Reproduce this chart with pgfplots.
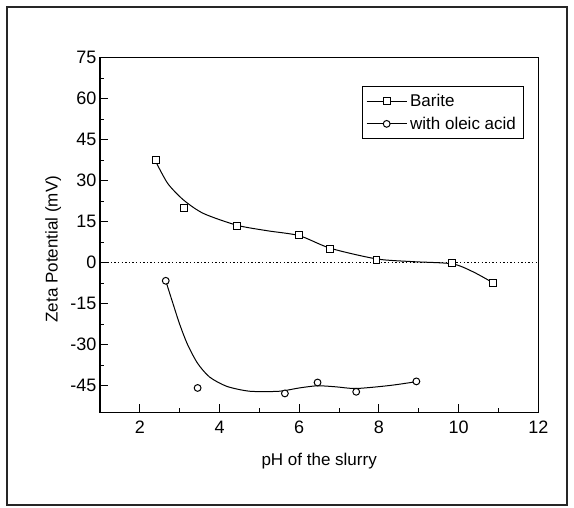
\documentclass[border=0pt]{standalone}
\usepackage{pgfplots}
\pgfplotsset{compat=1.18}
\usepackage{fontspec}
\setmainfont{Liberation Sans}
\begin{document}
\begin{tikzpicture}[x=1pt,y=1pt]
\useasboundingbox (0,0) rectangle (574,508);
\fill[white] (0,0) rectangle (574,508);
\draw[line width=1.6pt, black!85] (7,3) rectangle (567,501);
\begin{axis}[
  at={(100pt,95.7pt)}, anchor=south west,
  scale only axis, width=438.3pt, height=354.6pt,
  xmin=1, xmax=12, ymin=-54.7, ymax=75,
  xtick={2,4,...,12}, ytick={-45,-30,...,75},
  minor x tick num=1, minor y tick num=1,
  xtick pos=bottom, ytick pos=left,
  tick align=inside,
  major tick length=8pt, minor tick length=4pt,
  axis line style={line width=1.1pt},
  every tick/.style={line width=1pt, black},
  /pgf/number format/assume math mode=true,
  font=\fontsize{17}{20}\selectfont,
  tick label style={font=\fontsize{18}{20}\selectfont},
  xticklabel style={yshift=-5pt},
  xlabel={pH of the slurry},
  ylabel={Zeta Potential (mV)},
  xlabel style={at={(axis description cs:0.5,-0.139)}, anchor=center},
  ylabel style={at={(axis description cs:-0.107,0.46)}, anchor=center},
  legend style={at={(axis description cs:0.966,0.921)}, anchor=north east,
     draw=black, line width=0.9pt, font=\fontsize{17}{20}\selectfont,
     inner xsep=4pt, inner ysep=6pt, row sep=5pt,
     nodes={inner xsep=3pt}},
  legend cell align=left,
]
% zero line
\addplot[forget plot, line width=1.3pt, dash pattern=on 1.4pt off 2.2pt] coordinates {(1,0) (12,0)};
% fitted curves
\addplot[forget plot, smooth, tension=0.45, line width=1pt] coordinates {
(2.40,37.0)(2.7,29.0)(3.1,22.9)(3.6,18.0)(4.44,13.7)(5.2,11.7)(6.0,9.9)(6.78,5.3)(7.94,1.4)(8.85,0.4)(9.84,-0.4)(10.36,-3.3)(10.86,-7.3)};
\addplot[forget plot, smooth, tension=0.45, line width=1pt] coordinates {
(2.65,-6.6)(2.8,-13.5)(3.0,-22.5)(3.2,-30.0)(3.45,-36.8)(3.75,-41.8)(4.18,-45.2)(4.76,-47.0)(5.5,-47.0)(6.0,-45.8)(6.46,-45.0)(6.93,-45.4)(7.43,-46.0)(8.27,-44.9)(8.94,-43.5)};
% data points
\addplot[only marks, mark=square*, mark size=3.4pt, mark options={fill=white, draw=black, line width=1pt},
  legend image code/.code={\draw[black,line width=0.9pt] (0pt,0pt) -- (40pt,0pt);
    \draw[black] plot[mark=square*, mark size=3.4pt, mark options={fill=white, draw=black, line width=1pt}] coordinates {(20pt,0pt)};}]
 coordinates {(2.40,37.5)(3.10,20)(4.44,13.5)(6.0,10)(6.78,5)(7.94,1)(9.84,0)(10.86,-7.5)};
\addlegendentry{Barite}
\addplot[only marks, mark=*, mark size=3.4pt, mark options={fill=white, draw=black, line width=1pt},
  legend image code/.code={\draw[black,line width=0.9pt] (0pt,0pt) -- (40pt,0pt);
    \draw[black] plot[mark=*, mark size=3.4pt, mark options={fill=white, draw=black, line width=1pt}] coordinates {(20pt,0pt)};}]
 coordinates {(2.65,-6.6)(3.45,-45.8)(5.64,-47.8)(6.46,-43.8)(7.43,-47.2)(8.94,-43.4)};
\addlegendentry{with oleic acid}
\end{axis}
\end{tikzpicture}
\end{document}
